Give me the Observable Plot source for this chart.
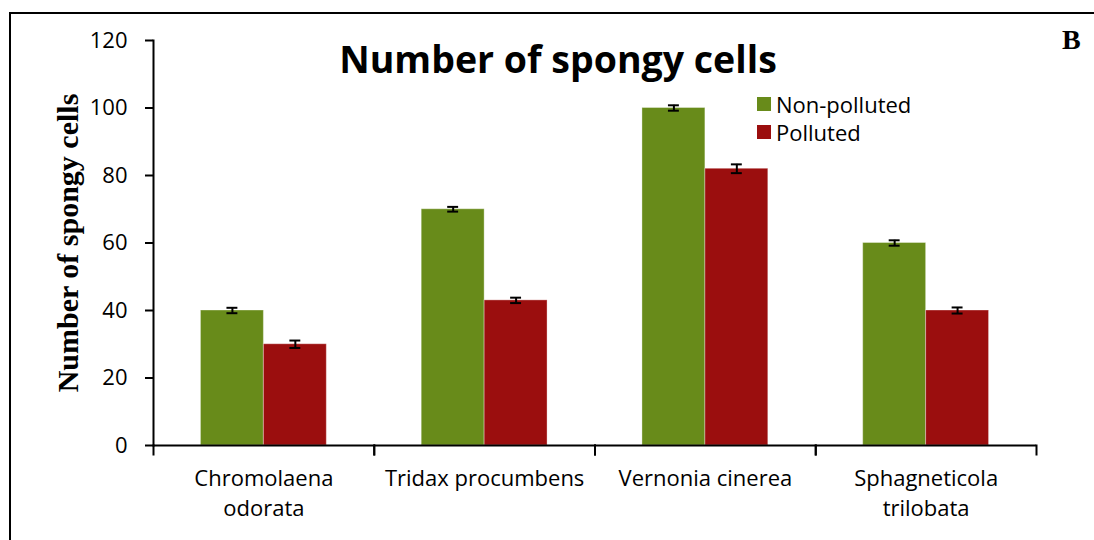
<!DOCTYPE html>
<html><head><meta charset="utf-8">
<script src="https://cdn.jsdelivr.net/npm/d3@7"></script>
<script src="https://cdn.jsdelivr.net/npm/@observablehq/plot@0.6"></script>
<style>
body{margin:0;background:#fff;}
#wrap{position:relative;width:1094px;height:540px;overflow:hidden;background:#fff;}
#border{position:absolute;left:9px;top:12px;right:-10px;bottom:-10px;border-left:2px solid #000;border-top:2px solid #000;pointer-events:none;}
#title{position:absolute;left:0;width:1116px;top:36px;text-align:center;font:bold 37.5px "Open Sans",sans-serif;color:#000;line-height:1.2;}
#tag{position:absolute;left:1062px;top:24px;font:bold 28px "Liberation Serif",serif;color:#000;}
#legend{position:absolute;left:757px;top:90px;font:22px "Open Sans",sans-serif;color:#000;}
#legend div{display:flex;align-items:center;height:28px;}
#legend span.sw{display:inline-block;width:14px;height:14px;margin-right:5px;}
#wrap svg{position:absolute;left:0;top:0;}
</style></head>
<body>
<div id="wrap"></div>
<script>
const categories = ["Chromolaena odorata","Tridax procumbens","Vernonia cinerea","Sphagneticola trilobata"];
const tickLabels = ["Chromolaena\nodorata","Tridax procumbens","Vernonia cinerea","Sphagneticola\ntrilobata"];
const series = ["Non-polluted","Polluted"];
const colors = ["#688b1a","#9b0e0e"];
const nonPolluted = [40,70,100,60];
const nonPollutedErr = [0.8,0.7,0.8,0.8];
const polluted = [30,43,82,40];
const pollutedErr = [1.1,0.8,1.3,0.9];
const yTicks = [0,20,40,60,80,100,120];

const data = [];
categories.forEach((c,i)=>{
  data.push({category:c, series:series[0], value:nonPolluted[i], err:nonPollutedErr[i]});
  data.push({category:c, series:series[1], value:polluted[i], err:pollutedErr[i]});
});
const labelOf = new Map(categories.map((c,i)=>[c,tickLabels[i]]));

const chart = Plot.plot({
  width:1094, height:540,
  marginLeft:153, marginRight:58, marginTop:40, marginBottom:95,
  style:{fontFamily:"'Open Sans', sans-serif", fontSize:"21px", background:"transparent", color:"#000"},
  fx:{domain:categories, padding:0, round:false, label:null},
  x:{domain:series, paddingInner:0, paddingOuter:0.754, round:false, axis:null},
  y:{domain:[0,120], label:null},
  color:{domain:series, range:colors},
  marks:[
    Plot.barY(data,{fx:"category", x:"series", y:"value", fill:"series", stroke:"#fff", strokeOpacity:0.35, strokeWidth:1}),
    Plot.ruleX(data,{fx:"category", x:"series", y1:d=>d.value-d.err, y2:d=>d.value+d.err, stroke:"#000", strokeWidth:2}),
    Plot.tickY(data,{fx:"category", x:"series", y:d=>d.value-d.err, stroke:"#000", strokeWidth:2, insetLeft:26, insetRight:26}),
    Plot.tickY(data,{fx:"category", x:"series", y:d=>d.value+d.err, stroke:"#000", strokeWidth:2, insetLeft:26, insetRight:26}),
    Plot.ruleY([0],{stroke:"#000", strokeWidth:2}),
    Plot.frame({anchor:"left", insetTop:405, insetBottom:-9, stroke:"#000", strokeWidth:2}),
    Plot.frame({anchor:"right", insetTop:405, insetBottom:-9, stroke:"#000", strokeWidth:2}),
    Plot.frame({anchor:"left", facetAnchor:"left", stroke:"#000", strokeWidth:2}),
    Plot.axisY({ticks:yTicks, tickSize:8, tickPadding:18, fontSize:22, strokeWidth:2, label:null}),
    Plot.axisFx({anchor:"bottom", tickSize:0, tickPadding:19, fontSize:22, lineHeight:1.36, tickFormat:d=>labelOf.get(d), label:null})
  ]
});
const wrap = document.getElementById("wrap");
wrap.appendChild(chart);

const border = document.createElement("div"); border.id="border"; wrap.appendChild(border);
const title = document.createElement("div"); title.id="title"; title.textContent="Number of spongy cells"; wrap.appendChild(title);
const tag = document.createElement("div"); tag.id="tag"; tag.textContent="B"; wrap.appendChild(tag);
const legend = document.createElement("div"); legend.id="legend";
series.forEach((s,i)=>{
  const row=document.createElement("div");
  const sw=document.createElement("span"); sw.className="sw"; sw.style.background=colors[i];
  row.appendChild(sw); row.appendChild(document.createTextNode(s)); legend.appendChild(row);
});
wrap.appendChild(legend);
const yl = document.createElement("div");
yl.textContent="Number of spongy cells";
yl.style.cssText='position:absolute;left:68px;top:243px;transform:translate(-50%,-50%) rotate(-90deg);white-space:nowrap;font:bold 30px "Liberation Serif",serif;color:#000;';
wrap.appendChild(yl);
</script>
</body></html>
